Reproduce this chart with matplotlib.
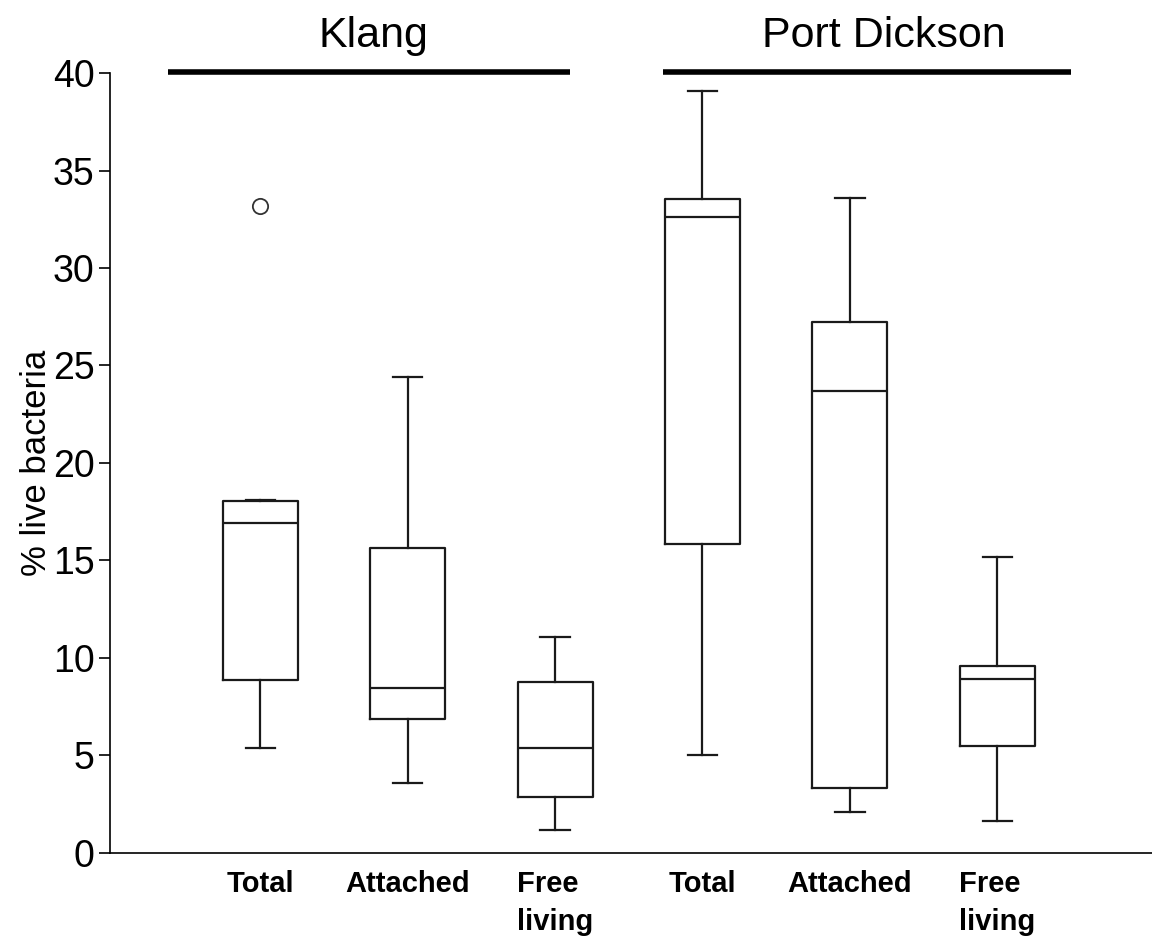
import matplotlib.pyplot as plt

plt.rcParams['font.family'] = ['Liberation Sans', 'DejaVu Sans']

# Waarden
sites = ['Klang', 'Port Dickson']
categories = ['Total', 'Attached', 'Free\nliving', 'Total', 'Attached', 'Free\nliving']
whislo = [5.4, 3.6, 1.2, 5.0, 2.1, 1.65]
q1 = [8.85, 6.85, 2.85, 15.85, 3.35, 5.5]
med = [16.9, 8.45, 5.4, 32.6, 23.7, 8.9]
q3 = [18.05, 15.65, 8.75, 33.55, 27.25, 9.6]
whishi = [18.1, 24.4, 11.1, 39.1, 33.6, 15.2]
fliers = [[33.2], [], [], [], [], []]

stats = []
for i in range(len(categories)):
    stats.append({'whislo': whislo[i], 'q1': q1[i], 'med': med[i], 'q3': q3[i],
                  'whishi': whishi[i], 'fliers': fliers[i]})

fig = plt.figure(figsize=(11.52, 9.47), dpi=100)
ax = fig.add_axes([0.0955, 0.0993, 0.9045, 0.8236])

lijn = dict(color='#1a1a1a', linewidth=1.6)
posities = [1, 2, 3, 4, 5, 6]
ax.bxp(stats, positions=posities, widths=0.51, capwidths=0.2,
       boxprops=lijn, whiskerprops=lijn, capprops=lijn, medianprops=lijn,
       flierprops=dict(marker='o', markersize=11, markerfacecolor='white',
                       markeredgecolor='#333333', markeredgewidth=1.3))

ax.set_xlim(-0.02, 7.05)
ax.set_ylim(0, 40)
ax.set_yticks(range(0, 41, 5))
ax.tick_params(axis='y', labelsize=27, length=8, width=1.2, pad=3)
ax.set_xticks(posities)
ax.set_xticklabels(categories, fontsize=21, fontweight='bold', linespacing=1.45)
ax.tick_params(axis='x', length=0, pad=12)
for lab in ax.get_xticklabels():
    lab.set_verticalalignment('top')
    lab.set_multialignment('left')
ax.set_ylabel('% live bacteria', fontsize=25, labelpad=0)

ax.spines['top'].set_visible(False)
ax.spines['right'].set_visible(False)
ax.spines['left'].set_linewidth(1.2)
ax.spines['bottom'].set_linewidth(1.2)

# Groepslijnen met namen erboven
groepen = [(0.376, 3.10), (3.73, 6.50)]
titel_x = [1.77, 5.23]
for naam, (x0, x1), tx in zip(sites, groepen, titel_x):
    ax.plot([x0, x1], [40.05, 40.05], color='black', linewidth=4, clip_on=False,
            solid_capstyle='butt')
    ax.text(tx, 41.9, naam, ha='center', va='center', fontsize=31,
            clip_on=False)

fig.savefig('out.png', dpi=100)
